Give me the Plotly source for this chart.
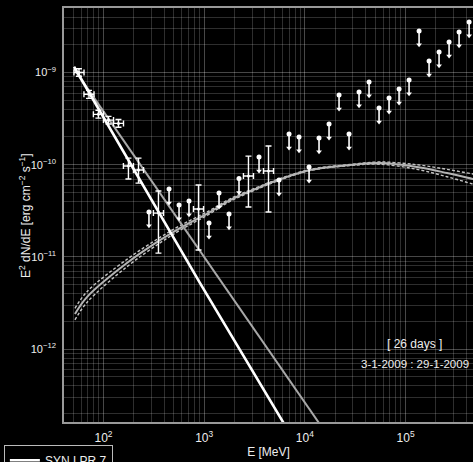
import plotly.graph_objects as go

# ---------------- data ----------------
# detected flux points (E in MeV, E^2 dN/dE in erg cm^-2 s^-1)
det_E = [57.1, 71.8, 89.1, 112.2, 140.9, 177.0, 222.8, 351.6, 879, 2754, 4355]
det_E_lo = [50.9, 64.0, 79.4, 100.0, 125.6, 157.8, 198.6, 313.4, 783, 2455, 3881]
det_E_hi = [64.1, 80.6, 100.0, 125.9, 158.1, 198.6, 250.0, 394.5, 986, 3090, 4886]
det_F = [1.00e-9, 5.81e-10, 3.52e-10, 3.05e-10, 2.81e-10, 9.68e-11, 8.77e-11,
         2.99e-11, 3.31e-11, 7.54e-11, 8.55e-11]
det_F_lo = [0.91e-9, 5.25e-10, 3.20e-10, 2.77e-10, 2.55e-10, 7.00e-11, 6.32e-11,
            1.10e-11, 1.19e-11, 3.48e-11, 3.07e-11]
det_F_hi = [1.10e-9, 6.40e-10, 3.90e-10, 3.35e-10, 3.10e-10, 1.18e-10, 1.18e-10,
            5.19e-11, 6.03e-11, 1.24e-10, 1.60e-10]

# upper limits
ul_E = [283, 448, 563, 707, 1117, 1405, 1766, 2219, 3507, 5541, 6966, 8755,
        11010, 13830, 17390, 21860, 27480, 34540, 43420, 54580, 68610, 86250,
        108400, 136300, 171300, 215300, 270700, 340300, 427800]
ul_F = [3.07e-11, 5.45e-11, 3.66e-11, 4.04e-11, 2.33e-11, 4.93e-11, 2.92e-11,
        7.08e-11, 1.21e-10, 6.82e-11, 2.15e-10, 2.00e-10, 9.44e-11, 1.95e-10,
        2.76e-10, 5.70e-10, 2.15e-10, 6.15e-10, 7.89e-10, 4.12e-10, 5.28e-10,
        6.62e-10, 8.30e-10, 2.82e-9, 1.33e-9, 1.67e-9, 2.14e-9, 2.75e-9, 3.53e-9]
ul_arrow_dex = 0.15  # drawn length of the upper-limit arrows

# synchrotron component (white line)
syn_E = [51, 910, 7000]
syn_F = [1.156e-9, 5.2e-12, 1.25e-13]

# second power-law (gray straight line)
pl_E = [51, 20000]
pl_F = [1.096e-9, 8.83e-14]

# curved component and its band half width (dex)
ic_E = [52.1, 68.5, 171, 364, 575, 1143, 1807, 3589, 4508, 11250, 28120,
        55850, 130000, 258200, 467700, 562000]
ic_F = [2.40e-12, 3.67e-12, 8.59e-12, 1.52e-11, 2.06e-11, 3.07e-11, 4.14e-11,
        5.73e-11, 6.34e-11, 8.77e-11, 9.93e-11, 1.042e-10, 9.44e-11, 8.13e-11,
        7.00e-11, 6.68e-11]
ic_w = [0.062, 0.058, 0.040, 0.030, 0.025, 0.018, 0.014, 0.010, 0.009, 0.006,
        0.006, 0.012, 0.025, 0.040, 0.055, 0.060]

x_tickvals = [1e2, 1e3, 1e4, 1e5]
x_ticktext = ["10<sup>2</sup>", "10<sup>3</sup>", "10<sup>4</sup>", "10<sup>5</sup>"]
y_tickvals = [1e-12, 1e-11, 1e-10, 1e-9]
y_ticktext = ["10<sup>−12</sup>", "10<sup>−11</sup>", "10<sup>−10</sup>", "10<sup>−9</sup>"]

FONT = "Liberation Sans, Arial, sans-serif"
TXT = "#eeeeee"

# ---------------- figure ----------------
fig = go.Figure()

ic_up = [f * 10 ** w for f, w in zip(ic_F, ic_w)]
ic_dn = [f / 10 ** w for f, w in zip(ic_F, ic_w)]
for band in (ic_up, ic_dn):
    fig.add_trace(go.Scatter(x=ic_E, y=band, mode="lines", showlegend=False,
                             hoverinfo="skip",
                             line=dict(color="#c4c4c4", width=1.4, dash="3px,2px",
                                       shape="spline")))
fig.add_trace(go.Scatter(x=ic_E, y=ic_F, mode="lines", name="IC", showlegend=False,
                         line=dict(color="#b4b4b4", width=2, shape="spline")))

fig.add_trace(go.Scatter(x=pl_E, y=pl_F, mode="lines", name="PL", showlegend=False,
                         line=dict(color="#a8a8a8", width=2)))
fig.add_trace(go.Scatter(x=syn_E, y=syn_F, mode="lines", name="SYN LPR 7",
                         line=dict(color="white", width=2.6)))

# detected points
fig.add_trace(go.Scatter(
    x=det_E, y=det_F, mode="markers", showlegend=False, name="flux",
    marker=dict(color="white", size=3),
    error_x=dict(type="data", symmetric=False,
                 array=[h - e for h, e in zip(det_E_hi, det_E)],
                 arrayminus=[e - l for e, l in zip(det_E, det_E_lo)],
                 color="white", thickness=1.4, width=3),
    error_y=dict(type="data", symmetric=False,
                 array=[h - f for h, f in zip(det_F_hi, det_F)],
                 arrayminus=[f - l for f, l in zip(det_F, det_F_lo)],
                 color="white", thickness=1.4, width=3)))

# upper limits
ul_bottom = [f / 10 ** ul_arrow_dex for f in ul_F]
fig.add_trace(go.Scatter(
    x=ul_E, y=ul_F, mode="markers", showlegend=False, name="UL",
    marker=dict(color="white", size=5, symbol="circle"),
    error_y=dict(type="data", symmetric=False, array=[0] * len(ul_F),
                 arrayminus=[f - b for f, b in zip(ul_F, ul_bottom)],
                 color="white", thickness=1.6, width=0)))
fig.add_trace(go.Scatter(
    x=ul_E, y=ul_bottom, mode="markers", showlegend=False, hoverinfo="skip",
    marker=dict(color="white", size=5, symbol="triangle-down")))

grid_major = "rgba(255,255,255,0.28)"
grid_minor = "rgba(255,255,255,0.18)"
x_minor = [m * 10 ** d for d in range(1, 6) for m in range(2, 10)]
y_minor = [m * 10 ** d for d in range(-13, -8) for m in range(2, 10)]

fig.update_layout(
    width=473, height=462,
    margin=dict(l=64, r=0, t=8, b=40, autoexpand=False),
    paper_bgcolor="black", plot_bgcolor="black",
    font=dict(family=FONT, color=TXT, size=12),
    legend=dict(x=-0.147, y=-0.055, xanchor="left", yanchor="top",
                bgcolor="black", bordercolor="#bbbbbb", borderwidth=1,
                itemwidth=30, font=dict(size=12, color=TXT)),
    xaxis=dict(type="log", range=[1.608, 5.670], automargin=False,
               tickvals=x_tickvals, ticktext=x_ticktext,
               showgrid=True, gridcolor=grid_major, gridwidth=1,
               minor=dict(tickvals=x_minor, showgrid=True, gridcolor=grid_minor),
               showline=True, mirror=True, linecolor="#999999", linewidth=1.5,
               zeroline=False, ticks="", ticklabelstandoff=4,
               tickfont=dict(size=12, family=FONT, color=TXT),
               title=dict(text="E [MeV]", standoff=3,
                          font=dict(size=12, family=FONT, color=TXT))),
    yaxis=dict(type="log", range=[-12.79, -8.30], automargin=False,
               tickvals=y_tickvals, ticktext=y_ticktext,
               showgrid=True, gridcolor=grid_major, gridwidth=1,
               minor=dict(tickvals=y_minor, showgrid=True, gridcolor=grid_minor),
               showline=True, mirror=True, linecolor="#999999", linewidth=1.5,
               zeroline=False, ticks="", ticklabelstandoff=4,
               tickfont=dict(size=11, family=FONT, color=TXT)),
    annotations=[
        dict(text="E<sup>2</sup> dN/dE [erg cm<sup>−2</sup> s<sup>−1</sup>]",
             x=-0.0954, y=0.5, xref="paper", yref="paper", textangle=-90,
             xanchor="center", yanchor="middle", showarrow=False,
             font=dict(size=12, family=FONT, color=TXT)),
        dict(text="[ 26 days ]", x=0.858, y=0.188, xref="paper", yref="paper",
             xanchor="center", yanchor="middle",
             showarrow=False, font=dict(size=12, family=FONT, color=TXT)),
        dict(text="3-1-2009 : 29-1-2009", x=0.858, y=0.140, xref="paper", yref="paper",
             xanchor="center", yanchor="middle",
             showarrow=False, font=dict(size=11.5, family=FONT, color=TXT)),
    ],
)

# remove the default page margin so the figure fills the 473x462 window exactly
fig.write_html("out.html",
               config={"displayModeBar": False},
               post_script="document.body.style.margin='0';"
                           "document.body.style.background='black';"
                           "document.body.style.overflow='hidden';")
